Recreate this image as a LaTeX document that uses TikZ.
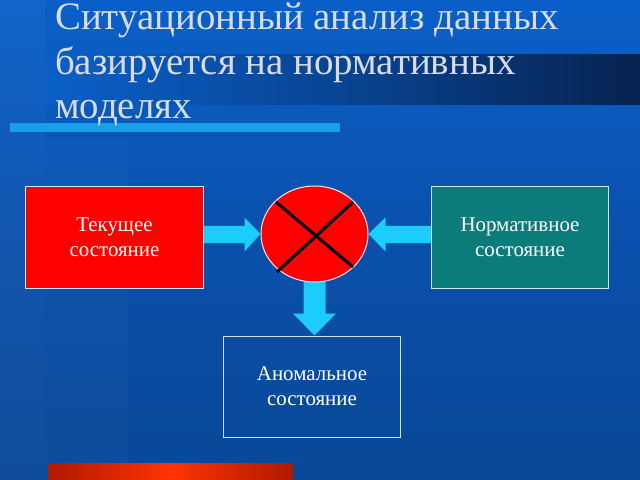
\documentclass[tikz,border=0pt]{standalone}
\usepackage{fontspec}
\setmainfont{Liberation Serif}
\newfontfamily\serifcyr{Liberation Serif}
\usetikzlibrary{shapes.geometric,calc}
\pgfdeclarelayer{bg}
\pgfdeclarelayer{arr}
\pgfsetlayers{bg,arr,main}
\definecolor{bgtop}{RGB}{10,96,200}
\definecolor{bgmid}{RGB}{10,80,172}
\definecolor{bgbot}{RGB}{8,72,150}
\definecolor{navyband}{RGB}{6,34,80}
\definecolor{titlec}{RGB}{215,220,232}
\definecolor{barblue}{RGB}{25,158,232}
\definecolor{arrowcyan}{RGB}{28,204,250}
\definecolor{tealbox}{RGB}{12,124,122}
\definecolor{edgec}{RGB}{205,228,250}
\definecolor{reddark}{RGB}{176,24,0}
\definecolor{redlight}{RGB}{255,52,0}
\tikzset{
  titletext/.style={anchor=base west, text=titlec, inner sep=0pt, font=\serifcyr\fontsize{39}{45}\selectfont},
  statebox/.style={rectangle, draw=edgec, line width=1bp, minimum width=177bp, minimum height=101bp,
    align=center, text=white, font=\serifcyr\fontsize{21}{25}\selectfont, inner sep=0pt},
  sumnode/.style={ellipse, fill=red, draw=white!90!red, line width=1bp, minimum width=107bp, minimum height=96bp, inner sep=0pt},
  crossline/.style={line width=3bp, black},
  blockarrow/.style={fill=arrowcyan}
}
\begin{document}
\begin{tikzpicture}[x=1bp,y=-1bp]
\useasboundingbox (0,0) rectangle (640,480);
\begin{pgfonlayer}{bg}
  \shade[top color=bgtop, bottom color=bgbot, middle color=bgmid] (0,0) rectangle (640,480);
  \fill[white, opacity=0.03] (0,0) rectangle (45,480);
  \fill[white, opacity=0.02] (45,140) rectangle (128,480);
  \shade[left color=bgtop, right color=navyband, middle color=bgtop!55!navyband] (45,55) rectangle (640,105);
  \fill[barblue] (10,123) rectangle (340,132);
  \shade[left color=reddark, right color=reddark, middle color=redlight] (48,463) rectangle (293,480);
\end{pgfonlayer}

\node[titletext] (t1) at (55,30) {Ситуационный анализ данных};
\node[titletext] (t2) at (55,75) {базируется на нормативных};
\node[titletext] (t3) at (55,119) {моделях};

\node[statebox, fill=red] (cur) at (114.5,237.5) {Текущее\\состояние};
\node[statebox, fill=tealbox] (norm) at (520,237.5) {Нормативное\\состояние};
\node[statebox] (anom) at (312,386.5) {Аномальное\\состояние};
\node[sumnode] (sum) at (314.5,234) {};

\draw[crossline] ($(sum.center)+(-38.5,-32)$) -- ($(sum.center)+(38.5,33)$);
\draw[crossline] ($(sum.center)+(38.5,-32)$) -- ($(sum.center)+(-37.5,38)$);

\begin{pgfonlayer}{arr}
  \fill[blockarrow] (sum.west) -- ++(-16,-16.5) -- ++(0,8.5) coordinate (a1)
    -- (cur.east |- a1) -- ++(0,17) coordinate (a2) -- (a2 -| a1) -- ++(0,8.5) -- cycle;
  \fill[blockarrow] (sum.east) -- ++(17,-16.5) -- ++(0,8.5) coordinate (b1)
    -- (norm.west |- b1) -- ++(0,17) coordinate (b2) -- (b2 -| b1) -- ++(0,8.5) -- cycle;
  \fill[blockarrow] (sum.south |- anom.north) -- ++(-21.5,-22) -- ++(10.5,0) coordinate (c1)
    -- (c1 |- sum.center) -- ++(22,0) coordinate (c2) -- (c2 |- c1) -- ++(10.5,0) -- cycle;
\end{pgfonlayer}
\end{tikzpicture}
\end{document}
